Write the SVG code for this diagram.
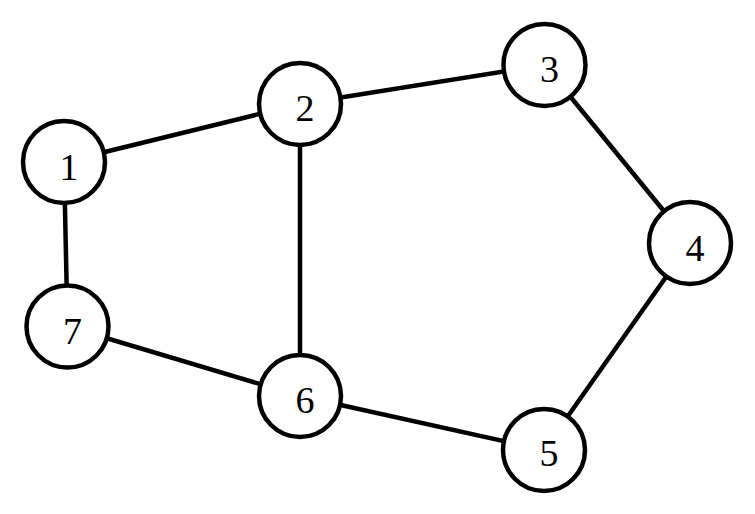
<svg xmlns="http://www.w3.org/2000/svg" width="755" height="514" viewBox="0 0 755 514">
<style>
.n circle{fill:#fff;stroke:#000;stroke-width:4.5}
.n text{font-family:"Liberation Serif","DejaVu Serif",serif;font-size:38px;text-anchor:middle;fill:#000}
#edges line{stroke:#000;stroke-width:4.5}
</style>
<rect width="755" height="514" fill="#fff"/>
<g id="edges">
<line x1="64" y1="162" x2="300" y2="104"/>
<line x1="300" y1="104" x2="544.5" y2="65"/>
<line x1="544.5" y1="65" x2="690" y2="243"/>
<line x1="690" y1="243" x2="544" y2="450"/>
<line x1="544" y1="450" x2="300" y2="396"/>
<line x1="300" y1="396" x2="67.5" y2="326.5"/>
<line x1="67.5" y1="326.5" x2="64" y2="162"/>
<line x1="300" y1="104" x2="300" y2="396"/>
</g>
<g id="node1" class="n"><circle cx="64" cy="162" r="41"/><text x="69" y="180">1</text></g>
<g id="node2" class="n"><circle cx="300" cy="104" r="41"/><text x="305" y="121">2</text></g>
<g id="node3" class="n"><circle cx="544.5" cy="65" r="41"/><text x="549.5" y="82">3</text></g>
<g id="node4" class="n"><circle cx="690" cy="243" r="41"/><text x="695" y="261">4</text></g>
<g id="node5" class="n"><circle cx="544" cy="450" r="41"/><text x="549" y="466">5</text></g>
<g id="node6" class="n"><circle cx="300" cy="396" r="41"/><text x="305" y="413">6</text></g>
<g id="node7" class="n"><circle cx="67.5" cy="326.5" r="41"/><text x="72.5" y="344">7</text></g>
</svg>
